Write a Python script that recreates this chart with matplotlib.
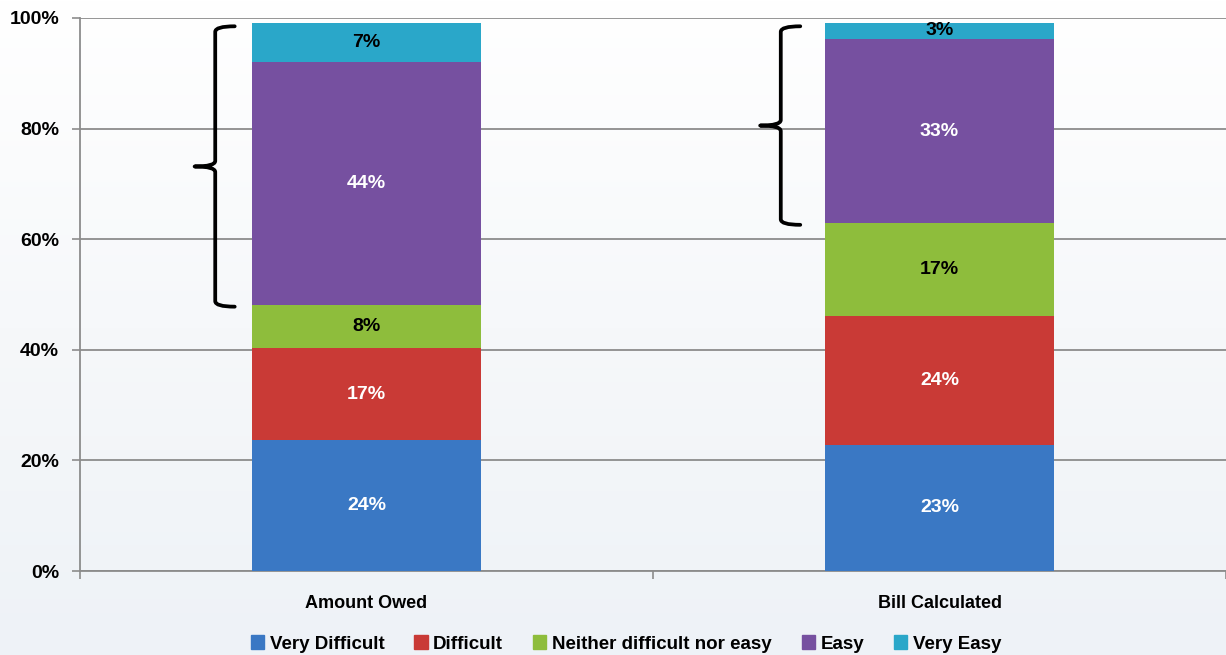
import numpy as np
import matplotlib
matplotlib.use("Agg")
from matplotlib import pyplot as plt
from matplotlib.path import Path
from matplotlib.patches import PathPatch

# values (percent of respondents)
categories = ["Amount Owed", "Bill Calculated"]
levels = ["Very Difficult", "Difficult", "Neither difficult nor easy", "Easy", "Very Easy"]
very_difficult = [23.7, 22.8]
difficult = [16.6, 23.3]
neither = [7.8, 16.8]
easy = [43.9, 33.3]
very_easy = [7.1, 2.9]
labels = [
    ["24%", "23%"],
    ["17%", "24%"],
    ["8%", "17%"],
    ["44%", "33%"],
    ["7%", "3%"],
]
yticks = [0, 20, 40, 60, 80, 100]

colors = ["#3a78c4", "#c93a36", "#8ebd3c", "#7650a0", "#2aa7c9"]
text_colors = ["white", "white", "black", "white", "black"]

plt.rcParams["font.family"] = ["Liberation Sans", "DejaVu Sans"]
plt.rcParams["font.weight"] = "bold"

fig = plt.figure(figsize=(12.26, 6.55), dpi=100)

# soft background wash
bg = fig.add_axes([0, 0, 1, 1], zorder=-10)
grad = np.linspace(0, 1, 256).reshape(-1, 1)
bg.imshow(grad, aspect="auto", cmap=matplotlib.colors.LinearSegmentedColormap.from_list(
    "bgwash", ["#eef2f7", "#f6f8fa", "#ffffff"]), extent=[0, 1, 0, 1], origin="lower")
bg.axis("off")

ax = fig.add_axes([80 / 1226, 1 - 571 / 655, 1146 / 1226, 553 / 655])
ax.patch.set_alpha(0)

series = [very_difficult, difficult, neither, easy, very_easy]
x = np.arange(len(categories))
bottom = np.zeros(len(categories))
width = 0.4
for vals, col, tcol, labs in zip(series, colors, text_colors, labels):
    vals = np.array(vals)
    ax.bar(x, vals, width, bottom=bottom, color=col, zorder=3)
    for xi, b, v, lab in zip(x, bottom, vals, labs):
        ax.text(xi, b + v / 2, lab, ha="center", va="center", color=tcol,
                fontsize=14, fontweight="bold", zorder=4)
    bottom = bottom + vals

# braces spanning Easy + Very Easy
top_start = np.array(very_difficult) + np.array(difficult) + np.array(neither)
tops = bottom
for xi, y0, y1, off in zip(x, top_start, tops, [0.064, 0.077]):
    edge = xi - width / 2
    xl = edge - off
    xt = edge - off + 0.034
    xc = edge - off - 0.036
    y0 = y0 - 0.3
    y1 = y1 - 0.6
    ym = (y0 + y1) / 2
    r = 1.0
    verts = [
        (xt, y1), (xl, y1), (xl, y1 - r),
        (xl, ym + r), (xl, ym), (xc, ym),
        (xl, ym), (xl, ym - r),
        (xl, y0 + r), (xl, y0), (xt, y0),
    ]
    codes = [Path.MOVETO, Path.CURVE3, Path.CURVE3,
             Path.LINETO, Path.CURVE3, Path.CURVE3,
             Path.CURVE3, Path.CURVE3,
             Path.LINETO, Path.CURVE3, Path.CURVE3]
    ax.add_patch(PathPatch(Path(verts, codes), fill=False, lw=2.7,
                           color="black", zorder=5, capstyle="round",
                           joinstyle="round"))

ax.set_xlim(-0.5, 1.5)
ax.set_ylim(0, 100)
ax.set_yticks(yticks)
ax.set_yticklabels([f"{t}%" for t in yticks], fontsize=14, fontweight="bold")
ax.yaxis.grid(True, color="#8c8c8c", lw=1.3, zorder=0)
ax.set_axisbelow(True)

ax.set_xticks(x)
ax.set_xticklabels(categories, fontsize=13, fontweight="bold")
ax.set_xticks([-0.5, 0.5, 1.5], minor=True)
ax.tick_params(axis="x", which="major", length=0, pad=17)
ax.tick_params(axis="x", which="minor", length=6, color="#8c8c8c", width=1.2)
ax.tick_params(axis="y", length=6, color="#8c8c8c", width=1.2, pad=9)

for side in ["top", "right"]:
    ax.spines[side].set_visible(False)
for side in ["left", "bottom"]:
    ax.spines[side].set_color("#8c8c8c")
    ax.spines[side].set_linewidth(1.3)

handles = [plt.Rectangle((0, 0), 1, 1, color=c) for c in colors]
fig.legend(handles, levels, loc="lower center", bbox_to_anchor=(626 / 1226, -0.022),
           ncol=5, frameon=False, handlelength=0.7, handleheight=0.7,
           handletextpad=0.3, columnspacing=1.6, prop={"weight": "bold", "size": 13.5})

fig.savefig("out.png", dpi=100)
